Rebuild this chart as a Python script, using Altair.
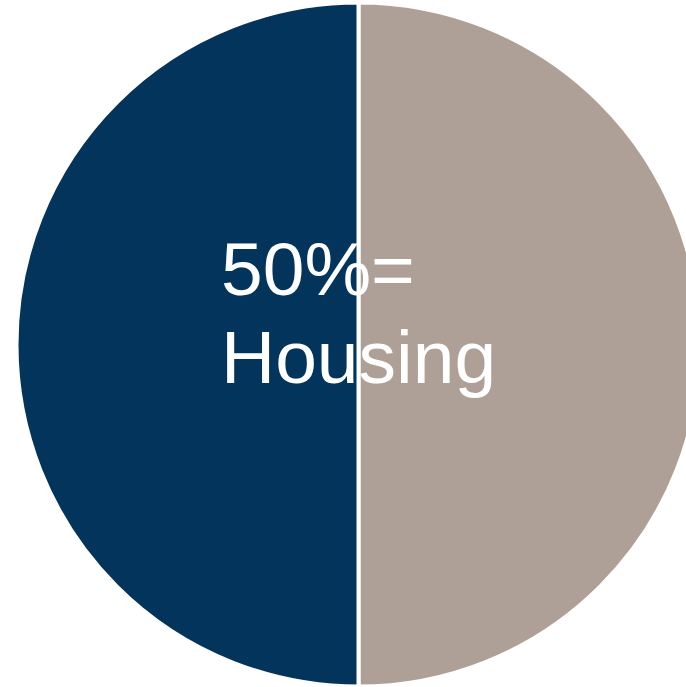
import altair as alt
import pandas as pd

categories = ["Other", "Housing"]
shares = [50, 50]
colors = ["#AFA097", "#02345C"]
label_lines = ["50%=", "Housing"]

df = pd.DataFrame({"category": categories, "share": shares, "order": [0, 1]})

pie = alt.Chart(df).mark_arc(stroke="white", strokeWidth=4, radius=342).encode(
    theta=alt.Theta("share:Q", stack=True),
    order=alt.Order("order:Q"),
    color=alt.Color("category:N", scale=alt.Scale(domain=categories, range=colors), legend=None),
    x=alt.value(358.5),
    y=alt.value(344.5),
)

label = alt.Chart(pd.DataFrame({"t": [0]})).mark_text(
    text=label_lines, font="Liberation Sans", fontSize=75, color="white",
    align="left", baseline="alphabetic", lineHeight=88,
).encode(x=alt.value(221), y=alt.value(295))

chart = alt.layer(pie, label).properties(
    width=686, height=687, autosize=alt.AutoSizeParams(type="none"), padding=0
).configure_view(stroke=None)

chart.save("out.html", embed_options={"renderer": "svg", "actions": False})
